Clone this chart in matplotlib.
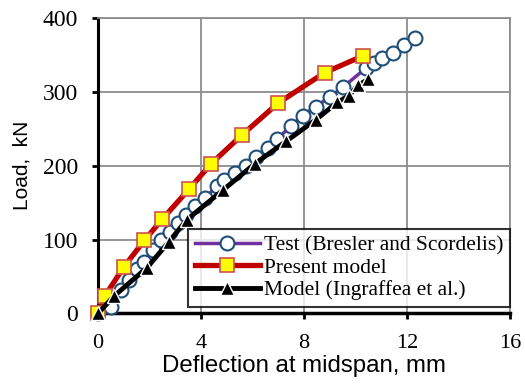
import numpy as np
import matplotlib
matplotlib.use('Agg')
import matplotlib.pyplot as plt

# test data (Bresler and Scordelis)
test_x = [0, 0.5, 0.9, 1.2, 1.5, 1.8, 2.15, 2.45, 2.8, 3.1, 3.4, 3.75, 4.15, 4.6, 4.9,
          5.3, 5.75, 6.15, 6.6, 6.95, 7.5, 7.95, 8.45, 9.0, 9.5, 10.4, 10.72, 11.05,
          11.45, 11.9, 12.3]
test_y = [0, 9, 32, 45, 60, 70, 86, 99, 110, 122, 133, 145, 156, 172, 181,
          190, 199, 212, 224, 236, 254, 268, 280, 293, 306, 332, 339, 346,
          353, 363, 373]

# present model
model_x = [0, 0.25, 1.0, 1.8, 2.5, 3.55, 4.4, 5.6, 7.0, 8.8, 10.3]
model_y = [0, 23, 63, 99, 128, 169, 203, 242, 285, 326, 349]

# Ingraffea et al.
ingr_x = [0, 0.6, 1.9, 2.75, 3.45, 4.85, 6.1, 7.3, 8.45, 9.3, 9.75, 10.1, 10.5]
ingr_y = [0, 23, 62, 97, 127, 167, 203, 233, 262, 286, 295, 309, 317]

xticks = [0, 4, 8, 12, 16]
yticks = [0, 100, 200, 300, 400]

serif = 'Liberation Serif'
sans = 'Liberation Sans'

fig = plt.figure(figsize=(5.25, 3.85), dpi=100)
ax = fig.add_axes([0.187, 0.186, 0.784, 0.767])

ax.plot(test_x, test_y, '-o', color='#7030A0', lw=2.5, ms=10, mfc='white',
        mec='#1F4E79', mew=1.5, clip_on=False, zorder=3,
        label='Test (Bresler and Scordelis)')
ax.plot(model_x, model_y, '-s', color='#C00000', lw=3.8, ms=10, mfc='#FFFF00',
        mec='#D05050', mew=1.2, clip_on=False, zorder=4,
        label='Present model')
ax.plot(ingr_x, ingr_y, '-^', color='black', lw=3.5, ms=10.5, mfc='black',
        mec='white', mew=1.0, clip_on=False, zorder=5,
        label='Model (Ingraffea et al.)')

ax.set_xlim(0, 16)
ax.set_ylim(0, 400)
ax.set_xticks(xticks)
ax.set_yticks(yticks)
ax.set_xticklabels([str(t) for t in xticks], fontname=serif, fontsize=16)
ax.set_yticklabels([str(t) for t in yticks], fontname=serif, fontsize=17)
ax.tick_params(direction='out', length=4.5, width=2)
ax.tick_params(axis='x', pad=10)
ax.tick_params(axis='y', pad=10)

ax.grid(True, color='#8c8c8c', lw=1.3)
ax.set_axisbelow(True)
for s in ['top', 'right']:
    ax.spines[s].set_color('#8c8c8c')
    ax.spines[s].set_linewidth(1.3)
ax.spines['left'].set_linewidth(2.2)
ax.spines['bottom'].set_linewidth(2.5)

ax.set_xlabel('Deflection at midspan, mm', fontname=sans, fontsize=17.3, labelpad=2)
ax.set_ylabel('Load,  kN', fontname=sans, fontsize=15, labelpad=8)

leg = ax.legend(loc='lower right', bbox_to_anchor=(1.0, 0.022), prop={'family': serif, 'size': 15.5},
                frameon=True, fancybox=False, handlelength=3.0, handletextpad=0.2,
                borderpad=0.3, labelspacing=0.12, borderaxespad=0.0)
leg.get_frame().set_edgecolor('black')
leg.get_frame().set_linewidth(1.5)
leg.set_zorder(10)

fig.savefig('out.png', dpi=100)
